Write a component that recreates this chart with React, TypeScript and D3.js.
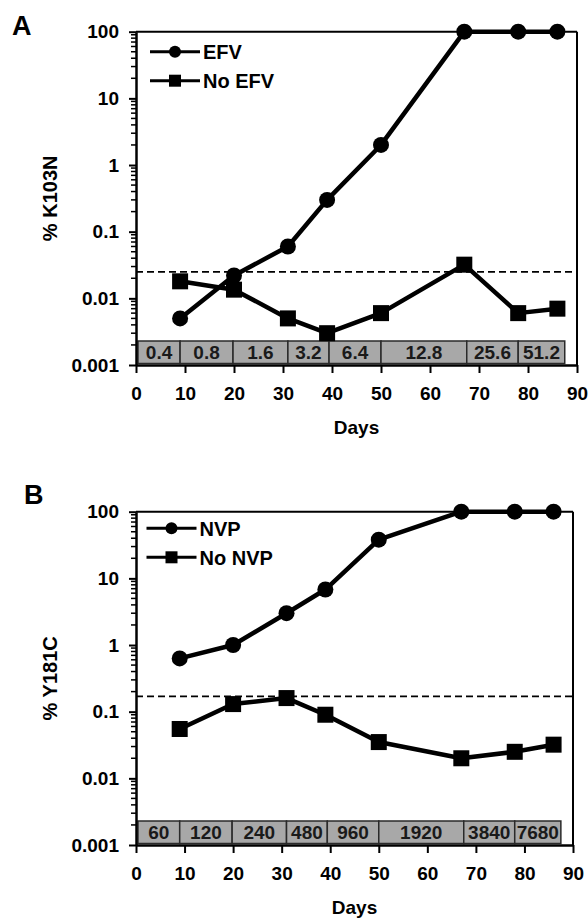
import React, { useEffect, useRef } from 'react';
import * as d3 from 'd3';

// sampling days (same for both panels)
const days = [9, 20, 31, 39, 50, 67, 78, 86];

// panel A, % K103N
const efv = [0.005, 0.022, 0.06, 0.3, 2, 100, 100, 100];
const noEfv = [0.018, 0.0135, 0.005, 0.003, 0.006, 0.032, 0.006, 0.007];
const efvDoses = ['0.4', '0.8', '1.6', '3.2', '6.4', '12.8', '25.6', '51.2'];
const cutoffA = 0.025;

// panel B, % Y181C
const nvp = [0.63, 1, 3, 6.8, 38, 100, 100, 100];
const noNvp = [0.055, 0.13, 0.16, 0.09, 0.035, 0.02, 0.025, 0.032];
const nvpDoses = ['60', '120', '240', '480', '960', '1920', '3840', '7680'];
const cutoffB = 0.17;

// dose band edges in days
const bandEdges = [0.4, 9, 19.8, 31, 39.4, 50, 67.5, 78, 87.5];

const xTicks = [0, 10, 20, 30, 40, 50, 60, 70, 80, 90];
const yTicks = [0.001, 0.01, 0.1, 1, 10, 100];
const yTickLabels = ['0.001', '0.01', '0.1', '1', '10', '100'];

const FONT = '"Liberation Sans", Arial, Helvetica, sans-serif';

type Panel = {
  letter: string;
  top: number;
  bottom: number;
  left: number;
  right: number;
  yTitle: string;
  drug: string;
  noDrug: string;
  on: number[];
  off: number[];
  doses: string[];
  cutoff: number;
  legX: number;
  legY: number;
  letterX: number;
  letterY: number;
};

function drawPanel(svg: any, p: Panel) {
  const x = d3.scaleLinear().domain([0, 90]).range([p.left, p.right]);
  const y = d3.scaleLog().domain([0.001, 100]).range([p.bottom, p.top]);
  const g = svg.append('g').attr('font-family', FONT);

  // dose band
  const bandH = 22.5;
  const band = g.append('g');
  band.selectAll('rect')
    .data(p.doses)
    .enter()
    .append('rect')
    .attr('x', (d: string, i: number) => x(bandEdges[i]))
    .attr('y', p.bottom - bandH - 1.5)
    .attr('width', (d: string, i: number) => x(bandEdges[i + 1]) - x(bandEdges[i]))
    .attr('height', bandH)
    .attr('fill', '#a8a8a8')
    .attr('stroke', '#2a2a2a')
    .attr('stroke-width', 1.5);
  band.selectAll('text')
    .data(p.doses)
    .enter()
    .append('text')
    .attr('x', (d: string, i: number) => (x(bandEdges[i]) + x(bandEdges[i + 1])) / 2)
    .attr('y', p.bottom - 1.5 - bandH / 2)
    .attr('dy', '0.36em')
    .attr('text-anchor', 'middle')
    .attr('font-size', 19)
    .attr('font-weight', 'bold')
    .attr('fill', '#1a1a1a')
    .text((d: string) => d);

  // detection cutoff
  g.append('line')
    .attr('x1', p.left).attr('x2', p.right)
    .attr('y1', y(p.cutoff)).attr('y2', y(p.cutoff))
    .attr('stroke', '#000')
    .attr('stroke-width', 1.8)
    .attr('stroke-dasharray', '7,4');

  const line = d3.line<number>()
    .x((d, i) => x(days[i]))
    .y((d) => y(d));

  [p.on, p.off].forEach((s) => {
    g.append('path')
      .attr('d', line(s))
      .attr('fill', 'none')
      .attr('stroke', '#000')
      .attr('stroke-width', 4.5)
      .attr('stroke-linejoin', 'round');
  });

  g.selectAll('circle.on')
    .data(p.on)
    .enter()
    .append('circle')
    .attr('cx', (d: number, i: number) => x(days[i]))
    .attr('cy', (d: number) => y(d))
    .attr('r', 8)
    .attr('fill', '#000');

  g.selectAll('rect.off')
    .data(p.off)
    .enter()
    .append('rect')
    .attr('x', (d: number, i: number) => x(days[i]) - 8)
    .attr('y', (d: number) => y(d) - 8)
    .attr('width', 16)
    .attr('height', 16)
    .attr('fill', '#000');

  // frame: top and right
  g.append('line')
    .attr('x1', p.left).attr('x2', p.right)
    .attr('y1', p.top).attr('y2', p.top)
    .attr('stroke', '#000').attr('stroke-width', 2);
  g.append('line')
    .attr('x1', p.right).attr('x2', p.right)
    .attr('y1', p.top).attr('y2', p.bottom)
    .attr('stroke', '#000').attr('stroke-width', 2);

  // y axis
  const yAxis = g.append('g')
    .attr('transform', `translate(${p.left},0)`)
    .call(d3.axisLeft(y)
      .tickValues(yTicks)
      .tickFormat((d: any, i: number) => yTickLabels[i])
      .tickSize(7)
      .tickSizeOuter(0)
      .tickPadding(10));
  // minor ticks
  const minor = y.ticks().filter((v) => yTicks.indexOf(v) < 0);
  g.append('g')
    .selectAll('line')
    .data(minor)
    .enter()
    .append('line')
    .attr('x1', p.left - 5).attr('x2', p.left)
    .attr('y1', (d: number) => y(d)).attr('y2', (d: number) => y(d))
    .attr('stroke', '#000').attr('stroke-width', 1.5);

  // x axis
  const xAxis = g.append('g')
    .attr('transform', `translate(0,${p.bottom})`)
    .call(d3.axisBottom(x)
      .tickValues(xTicks)
      .tickFormat(d3.format('d'))
      .tickSize(8)
      .tickSizeOuter(0)
      .tickPadding(14));

  [yAxis, xAxis].forEach((a) => {
    a.select('.domain').attr('stroke', '#000').attr('stroke-width', 2.5);
    a.selectAll('.tick line').attr('stroke', '#000').attr('stroke-width', 2);
    a.selectAll('.tick text')
      .attr('font-family', FONT)
      .attr('font-size', 19)
      .attr('font-weight', 'bold')
      .attr('fill', '#000');
  });

  // titles
  g.append('text')
    .attr('transform', `translate(57,${(p.top + p.bottom) / 2}) rotate(-90)`)
    .attr('text-anchor', 'middle')
    .attr('font-size', 20)
    .attr('font-weight', 'bold')
    .text(p.yTitle);
  g.append('text')
    .attr('x', (p.left + p.right) / 2)
    .attr('y', p.bottom + 68.5)
    .attr('text-anchor', 'middle')
    .attr('font-size', 19)
    .attr('font-weight', 'bold')
    .text('Days');
  g.append('text')
    .attr('x', p.letterX)
    .attr('y', p.letterY)
    .attr('font-size', 27)
    .attr('font-weight', 'bold')
    .text(p.letter);

  // legend
  const leg = g.append('g').attr('transform', `translate(${p.legX},${p.legY})`);
  [0, 1].forEach((k) => {
    const row = leg.append('g').attr('transform', `translate(0,${k * 29})`);
    row.append('line')
      .attr('x1', 0).attr('x2', 50)
      .attr('y1', 0).attr('y2', 0)
      .attr('stroke', '#000').attr('stroke-width', 3);
    if (k === 0) {
      row.append('circle').attr('cx', 25).attr('cy', 0).attr('r', 6);
    } else {
      row.append('rect').attr('x', 19).attr('y', -6).attr('width', 12).attr('height', 12);
    }
    row.append('text')
      .attr('x', 53)
      .attr('y', 0)
      .attr('dy', '0.36em')
      .attr('font-size', 20)
      .attr('font-weight', 'bold')
      .text(k === 0 ? p.drug : p.noDrug);
  });
}

export default function App() {
  const ref = useRef<SVGSVGElement>(null);

  useEffect(() => {
    const svg = d3.select(ref.current);
    svg.selectAll('*').remove();
    svg.append('rect').attr('width', 588).attr('height', 918).attr('fill', '#fff');

    drawPanel(svg, {
      letter: 'A', top: 31.7, bottom: 365, left: 136, right: 577,
      yTitle: '% K103N', drug: 'EFV', noDrug: 'No EFV',
      on: efv, off: noEfv, doses: efvDoses, cutoff: cutoffA,
      legX: 150, legY: 51.7, letterX: 12, letterY: 35,
    });
    drawPanel(svg, {
      letter: 'B', top: 511.7, bottom: 845, left: 136, right: 573,
      yTitle: '% Y181C', drug: 'NVP', noDrug: 'No NVP',
      on: nvp, off: noNvp, doses: nvpDoses, cutoff: cutoffB,
      legX: 146.5, legY: 528.3, letterX: 24, letterY: 504,
    });
  }, []);

  return (
    <div style={{ position: 'absolute', left: 0, top: 0 }}>
      <svg ref={ref} width={588} height={918} style={{ display: 'block' }} />
    </div>
  );
}
